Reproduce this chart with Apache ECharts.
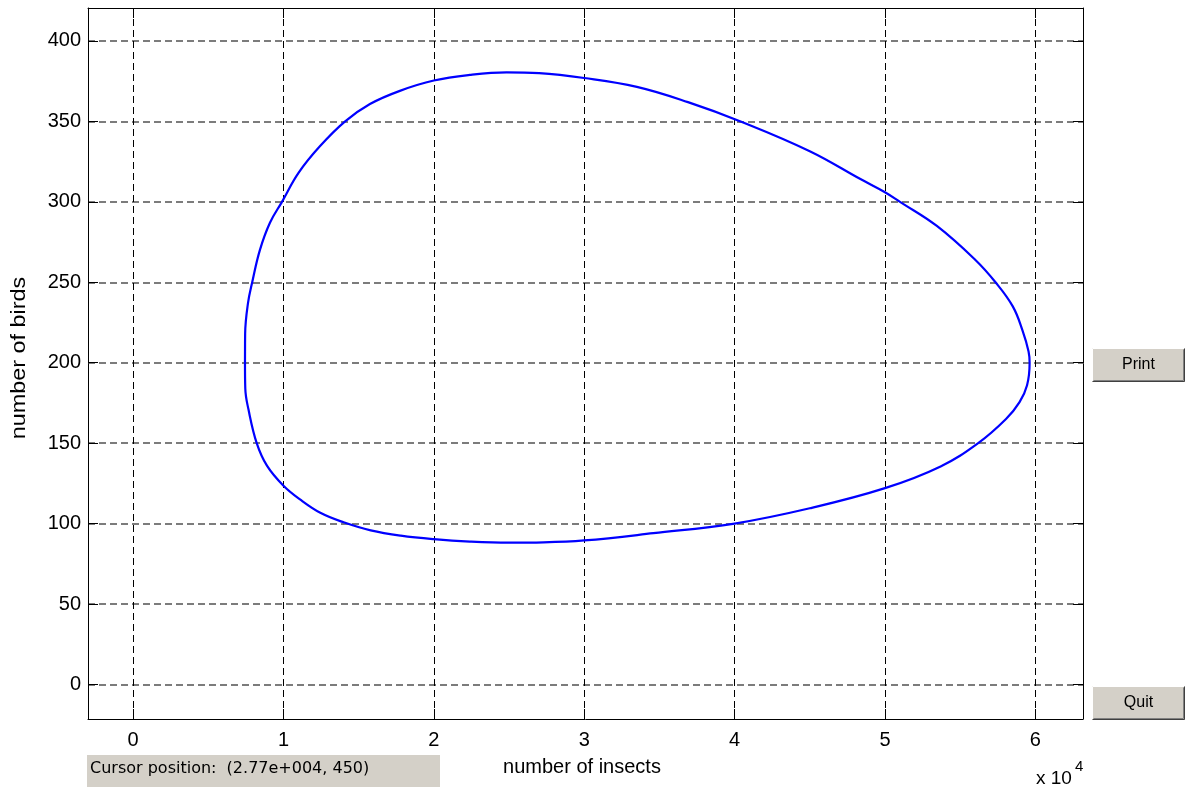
<!DOCTYPE html>
<html>
<head>
<meta charset="utf-8">
<title>number of birds vs number of insects</title>
<script src="https://cdn.jsdelivr.net/npm/echarts@6/dist/echarts.min.js"></script>
<style>
  html, body { margin: 0; padding: 0; background: #ffffff; }
  #chart { width: 1185px; height: 787px; }
</style>
</head>
<body>
<div id="chart"></div>
<script>
// Predator–prey orbit: insects (x) against birds (y), traced once round the cycle
const insects = [7440, 7450, 7640, 7920, 8430, 9100, 9900, 11000, 12420, 14100,
                 15750, 17740, 20000, 22400, 24840, 27000, 30000, 33500, 36900, 40400,
                 45000, 48400, 50000, 51000, 53450, 56000, 57350, 58500, 59150, 59550,
                 59620, 59450, 58950, 58050, 56200, 53700, 50000, 45000, 40000, 34600,
                 30000, 27300, 25000, 22400, 20000, 17800, 15800, 14000, 12450, 11100,
                 10000, 8900, 8220, 7670, 7460, 7440];
const birds = [200, 218, 237, 250, 270, 287, 300, 318, 334.5, 350,
               360.8, 369, 375.4, 378.9, 380.5, 380, 377, 371.5, 362, 350,
               331.5, 314, 306, 300, 285, 264, 250, 235, 220, 207,
               200, 186, 175.5, 165, 150, 135.5, 122, 109.5, 100, 94,
               89.5, 88.3, 88.1, 88.8, 90.3, 92.5, 95.8, 100.8, 106.7, 115,
               123.5, 136, 150, 171, 184, 200];

const xTitle = 'number of insects';
const yTitle = 'number of birds';
const xScaleBase = '10';
const xScaleExp = '4';
const cursorText = 'Cursor position:  (2.77e+004, 450)';
const buttonLabels = ['Print', 'Quit'];

const points = insects.map((v, i) => [v, birds[i]]);

const FONT = '"Liberation Sans", Arial, sans-serif';
const UI_FONT = '"DejaVu Sans", "Liberation Sans", sans-serif';

const xRange = { min: -3000, max: 63170, splitNumber: 6 };
const yRange = { min: -21.5, max: 420.5, splitNumber: 9 };

const tickStyle = { show: true, inside: true, length: 10, lineStyle: { color: '#000', width: 1 } };
const lineStyle = { show: true, onZero: false, lineStyle: { color: '#000', width: 1 } };

function button(label, x, y, w, h) {
  return {
    type: 'group',
    x: x, y: y,
    children: [
      { type: 'rect', shape: { x: 0, y: 0, width: w, height: h }, style: { fill: '#d4d0c8' } },
      { type: 'polyline', shape: { points: [[0.5, h - 0.5], [0.5, 0.5], [w - 0.5, 0.5]] }, style: { stroke: '#ffffff', lineWidth: 1, fill: null } },
      { type: 'polyline', shape: { points: [[0.5, h - 0.5], [w - 0.5, h - 0.5], [w - 0.5, 0.5]] }, style: { stroke: '#404040', lineWidth: 1, fill: null } },
      { type: 'polyline', shape: { points: [[1.5, h - 1.5], [w - 1.5, h - 1.5], [w - 1.5, 1.5]] }, style: { stroke: '#808080', lineWidth: 1, fill: null } },
      { type: 'text', x: w / 2, y: h / 2, style: { text: label, font: '16px "Liberation Sans", Arial, sans-serif', fill: '#000', align: 'center', verticalAlign: 'middle' } }
    ]
  };
}

const chart = echarts.init(document.getElementById('chart'), null, { renderer: 'canvas' });

chart.setOption({
  backgroundColor: '#ffffff',
  animation: false,
  grid: { left: 88, top: 8, right: 102, bottom: 68, containLabel: false },
  xAxis: [
    {
      type: 'value', position: 'bottom',
      min: xRange.min, max: xRange.max, splitNumber: xRange.splitNumber,
      axisLine: lineStyle,
      axisTick: tickStyle,
      axisLabel: {
        show: true, margin: 11, color: '#000', fontSize: 20, fontFamily: FONT,
        showMinLabel: false, showMaxLabel: false,
        formatter: v => String(Math.round(v / 10000))
      },
      splitLine: { show: true, showMinLine: false, showMaxLine: false, lineStyle: { color: '#000', width: 1, type: [7, 4] } }
    },
    {
      type: 'value', position: 'top',
      min: xRange.min, max: xRange.max, splitNumber: xRange.splitNumber,
      axisLine: lineStyle, axisTick: tickStyle,
      axisLabel: { show: false }, splitLine: { show: false }
    }
  ],
  yAxis: [
    {
      type: 'value', position: 'left',
      min: yRange.min, max: yRange.max, splitNumber: yRange.splitNumber,
      axisLine: lineStyle,
      axisTick: tickStyle,
      axisLabel: {
        show: true, margin: 7, color: '#000', fontSize: 20, fontFamily: FONT,
        showMinLabel: false, showMaxLabel: false
      },
      splitLine: { show: true, showMinLine: false, showMaxLine: false, lineStyle: { color: '#7c7c7c', width: 2, type: [7, 4] } }
    },
    {
      type: 'value', position: 'right',
      min: yRange.min, max: yRange.max, splitNumber: yRange.splitNumber,
      axisLine: lineStyle, axisTick: tickStyle,
      axisLabel: { show: false }, splitLine: { show: false }
    }
  ],
  series: [
    {
      type: 'line',
      data: points,
      xAxisIndex: 0, yAxisIndex: 0,
      showSymbol: false,
      smooth: 0.4,
      lineStyle: { color: '#0000ff', width: 2.2 },
      z: 5
    }
  ],
  graphic: [
    { type: 'text', x: 582, y: 767, style: { text: xTitle, font: '20px ' + FONT, fill: '#000', align: 'center', verticalAlign: 'middle' } },
    { type: 'text', x: 19, y: 358, rotation: Math.PI / 2, scaleX: 1.17, style: { text: yTitle, font: '20px ' + FONT, fill: '#000', align: 'center', verticalAlign: 'middle' } },
    { type: 'text', x: 1036, y: 779, style: { text: 'x ' + xScaleBase, font: '19px ' + FONT, fill: '#000', align: 'left', verticalAlign: 'middle' } },
    { type: 'text', x: 1075, y: 767, style: { text: xScaleExp, font: '15px ' + FONT, fill: '#000', align: 'left', verticalAlign: 'middle' } },
    { type: 'rect', shape: { x: 87, y: 755, width: 353, height: 32 }, style: { fill: '#d4d0c8' } },
    { type: 'text', x: 90, y: 769, style: { text: cursorText, font: '16px ' + UI_FONT, fill: '#000', align: 'left', verticalAlign: 'middle' } },
    button(buttonLabels[0], 1092, 348, 93, 34),
    button(buttonLabels[1], 1092, 686, 93, 34)
  ]
});
</script>
</body>
</html>
